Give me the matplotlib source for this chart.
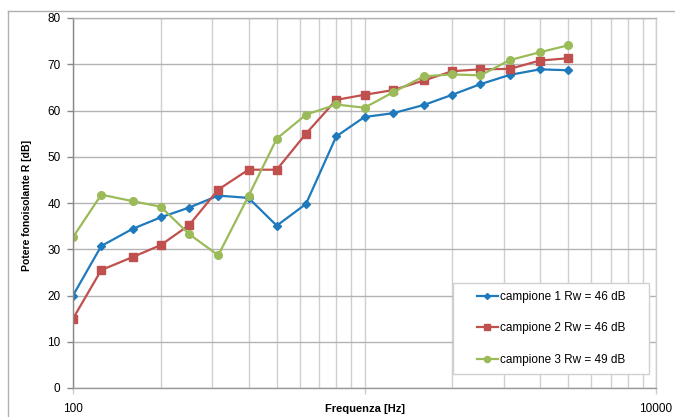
import matplotlib.pyplot as plt
from matplotlib.patches import Rectangle
from matplotlib.lines import Line2D

plt.rcParams["font.family"] = ["Liberation Sans", "DejaVu Sans"]

# third-octave bands (Hz)
freq = [100, 125, 160, 200, 250, 315, 400, 500, 630, 800,
        1000, 1250, 1600, 2000, 2500, 3150, 4000, 5000]

# sound reduction index R (dB) per sample
r_campione1 = [20.0, 30.7, 34.4, 36.9, 39.0, 41.6, 41.1, 35.1, 39.8, 54.4,
               58.6, 59.4, 61.2, 63.4, 65.7, 67.7, 68.9, 68.7]
r_campione2 = [15.0, 25.5, 28.3, 30.9, 35.2, 42.9, 47.2, 47.2, 55.0, 62.3,
               63.4, 64.4, 66.5, 68.5, 68.9, 69.0, 70.8, 71.3]
r_campione3 = [32.6, 41.8, 40.4, 39.2, 33.3, 28.7, 41.5, 53.9, 59.1, 61.3,
               60.6, 63.9, 67.4, 67.8, 67.6, 70.9, 72.6, 74.1]

labels = ["campione 1 Rw = 46 dB", "campione 2 Rw = 46 dB", "campione 3 Rw = 49 dB"]

blue = "#1f7abd"
red = "#c0504d"
green = "#9bbb59"

W, H = 675, 417
fig = plt.figure(figsize=(W / 100, H / 100), dpi=100)
ax = fig.add_axes([73 / W, 1 - 388 / H, (656 - 73) / W, (388 - 18) / H])

ax.plot(freq, r_campione1, color=blue, lw=1.6, marker="D", ms=3.8, label=labels[0])
ax.plot(freq, r_campione2, color=red, lw=1.6, marker="s", ms=5.5, label=labels[1])
ax.plot(freq, r_campione3, color=green, lw=1.6, marker="o", ms=5.5, label=labels[2])

ax.set_xscale("log")
ax.set_xlim(100, 10000)
ax.set_ylim(0, 80)
ax.set_yticks(range(0, 81, 10))
ax.set_xticks([100, 1000, 10000])
ax.set_xticklabels(["100", "", "10000"])

ax.grid(True, which="both", axis="x", color="#cfcfcf", lw=1)
ax.grid(True, which="major", axis="y", color="#b3b3b3", lw=1)
ax.set_axisbelow(True)

ax.tick_params(axis="y", length=4, width=1, color="#888888", labelsize=8.5, pad=5)
ax.tick_params(axis="x", which="major", length=4, width=1, color="#cccccc",
               labelsize=8.5, pad=7)
ax.tick_params(axis="x", which="minor", length=0)

ax.spines["left"].set_color("#888888")
ax.spines["bottom"].set_color("#999999")
ax.spines["top"].set_color("#b3b3b3")
ax.spines["right"].set_color("#cfcfcf")
for s in ax.spines.values():
    s.set_linewidth(1)

fig.text(365 / W, 1 - 409 / H, "Frequenza [Hz]", ha="center", va="center",
         fontsize=8, fontweight="bold")
fig.text(27 / W, 1 - 205 / H, "Potere fonoisolante R [dB]", ha="center",
         va="center", rotation=90, fontsize=7.5, fontweight="bold")

# chart area border
fig.add_artist(Line2D([8 / W, 1], [1 - 11 / H, 1 - 11 / H], color="#b0b0b0", lw=1))
fig.add_artist(Line2D([8 / W, 8 / W], [0, 1 - 11 / H], color="#b0b0b0", lw=1))

# legend box
box = Rectangle((453 / W, 1 - 374 / H), (649 - 453) / W, (374 - 283) / H,
                transform=fig.transFigure, facecolor="white",
                edgecolor="#d0d0d0", lw=1, zorder=3, clip_on=False)
ax.add_patch(box)
leg = ax.legend(loc="center", bbox_to_anchor=(551 / W, 1 - 328.5 / H),
                bbox_transform=fig.transFigure, frameon=False, fontsize=8.5,
                labelspacing=1.65, handlelength=1.8, handletextpad=0.15,
                markerscale=0.8)
leg.set_zorder(5)

fig.savefig("out.png", dpi=100)
